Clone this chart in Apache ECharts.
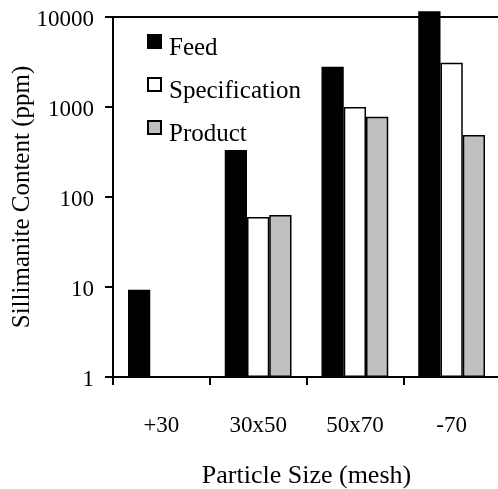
<!DOCTYPE html>
<html>
<head>
<meta charset="utf-8">
<script src="https://cdn.jsdelivr.net/npm/echarts@6/dist/echarts.min.js"></script>
<style>
html,body{margin:0;padding:0;background:#fff;}
#chart{width:498px;height:489px;}
</style>
</head>
<body>
<div id="chart"></div>
<script>
var categories = ['+30', '30x50', '50x70', '-70'];
var feed = [9.3, 333, 2800, 11600];
var specification = ['-', 60, 1000, 3100];
var product = ['-', 63, 780, 490];
var yTicks = [1, 10, 100, 1000, 10000];

var font = 'Liberation Serif';
var chart = echarts.init(document.getElementById('chart'), null, {renderer: 'canvas'});
chart.setOption({
  backgroundColor: '#fff',
  animation: false,
  grid: {
    left: 113, top: 17, right: -2, bottom: 112,
    outerBoundsMode: 'none',
    containLabel: false,
    show: true, borderColor: '#000', borderWidth: 2, backgroundColor: 'transparent'
  },
  legend: {
    orient: 'vertical',
    left: 147,
    top: 34,
    padding: 0,
    itemWidth: 13,
    itemHeight: 13,
    itemGap: 16,
    icon: 'rect',
    formatter: '{t|{name}}',
    textStyle: {
      fontFamily: font, fontSize: 25, color: '#000',
      rich: {t: {fontFamily: font, fontSize: 25, color: '#000', padding: [14, 0, 0, 3]}}
    },
    data: ['Feed', 'Specification', 'Product']
  },
  xAxis: {
    type: 'category',
    data: categories,
    name: 'Particle Size (mesh)',
    nameLocation: 'middle',
    nameGap: 86,
    nameTextStyle: {fontFamily: font, fontSize: 26, color: '#000'},
    axisLine: {lineStyle: {color: '#000', width: 2}},
    axisTick: {show: true, length: 8, lineStyle: {color: '#000', width: 2}},
    axisLabel: {fontFamily: font, fontSize: 23, color: '#000', margin: 37}
  },
  yAxis: {
    type: 'log',
    logBase: 10,
    min: yTicks[0],
    max: yTicks[yTicks.length - 1],
    name: 'Sillimanite Content (ppm)',
    nameLocation: 'middle',
    nameGap: 78,
    nameMoveOverlap: false,
    nameTextStyle: {fontFamily: font, fontSize: 25, color: '#000'},
    axisLine: {show: true, lineStyle: {color: '#000', width: 2}},
    axisTick: {show: true, length: 8, lineStyle: {color: '#000', width: 2}},
    axisLabel: {
      fontFamily: font, fontSize: 23, color: '#000', margin: 19,
      formatter: function (v) { return '{a|' + Math.round(v) + '}'; },
      rich: {a: {fontFamily: font, fontSize: 23, color: '#000', padding: [6, 0, 0, 0]}}
    },
    splitLine: {show: false}
  },
  series: [
    {name: 'Feed', type: 'bar', data: feed, clip: false, barGap: '0%', barCategoryGap: '31%',
     itemStyle: {color: '#000', borderColor: '#000', borderWidth: 1.5}},
    {name: 'Specification', type: 'bar', data: specification, clip: false,
     itemStyle: {color: '#fff', borderColor: '#000', borderWidth: 1.5}},
    {name: 'Product', type: 'bar', data: product, clip: false,
     itemStyle: {color: '#c0c0c0', borderColor: '#000', borderWidth: 1.5}}
  ]
});
</script>
</body>
</html>
